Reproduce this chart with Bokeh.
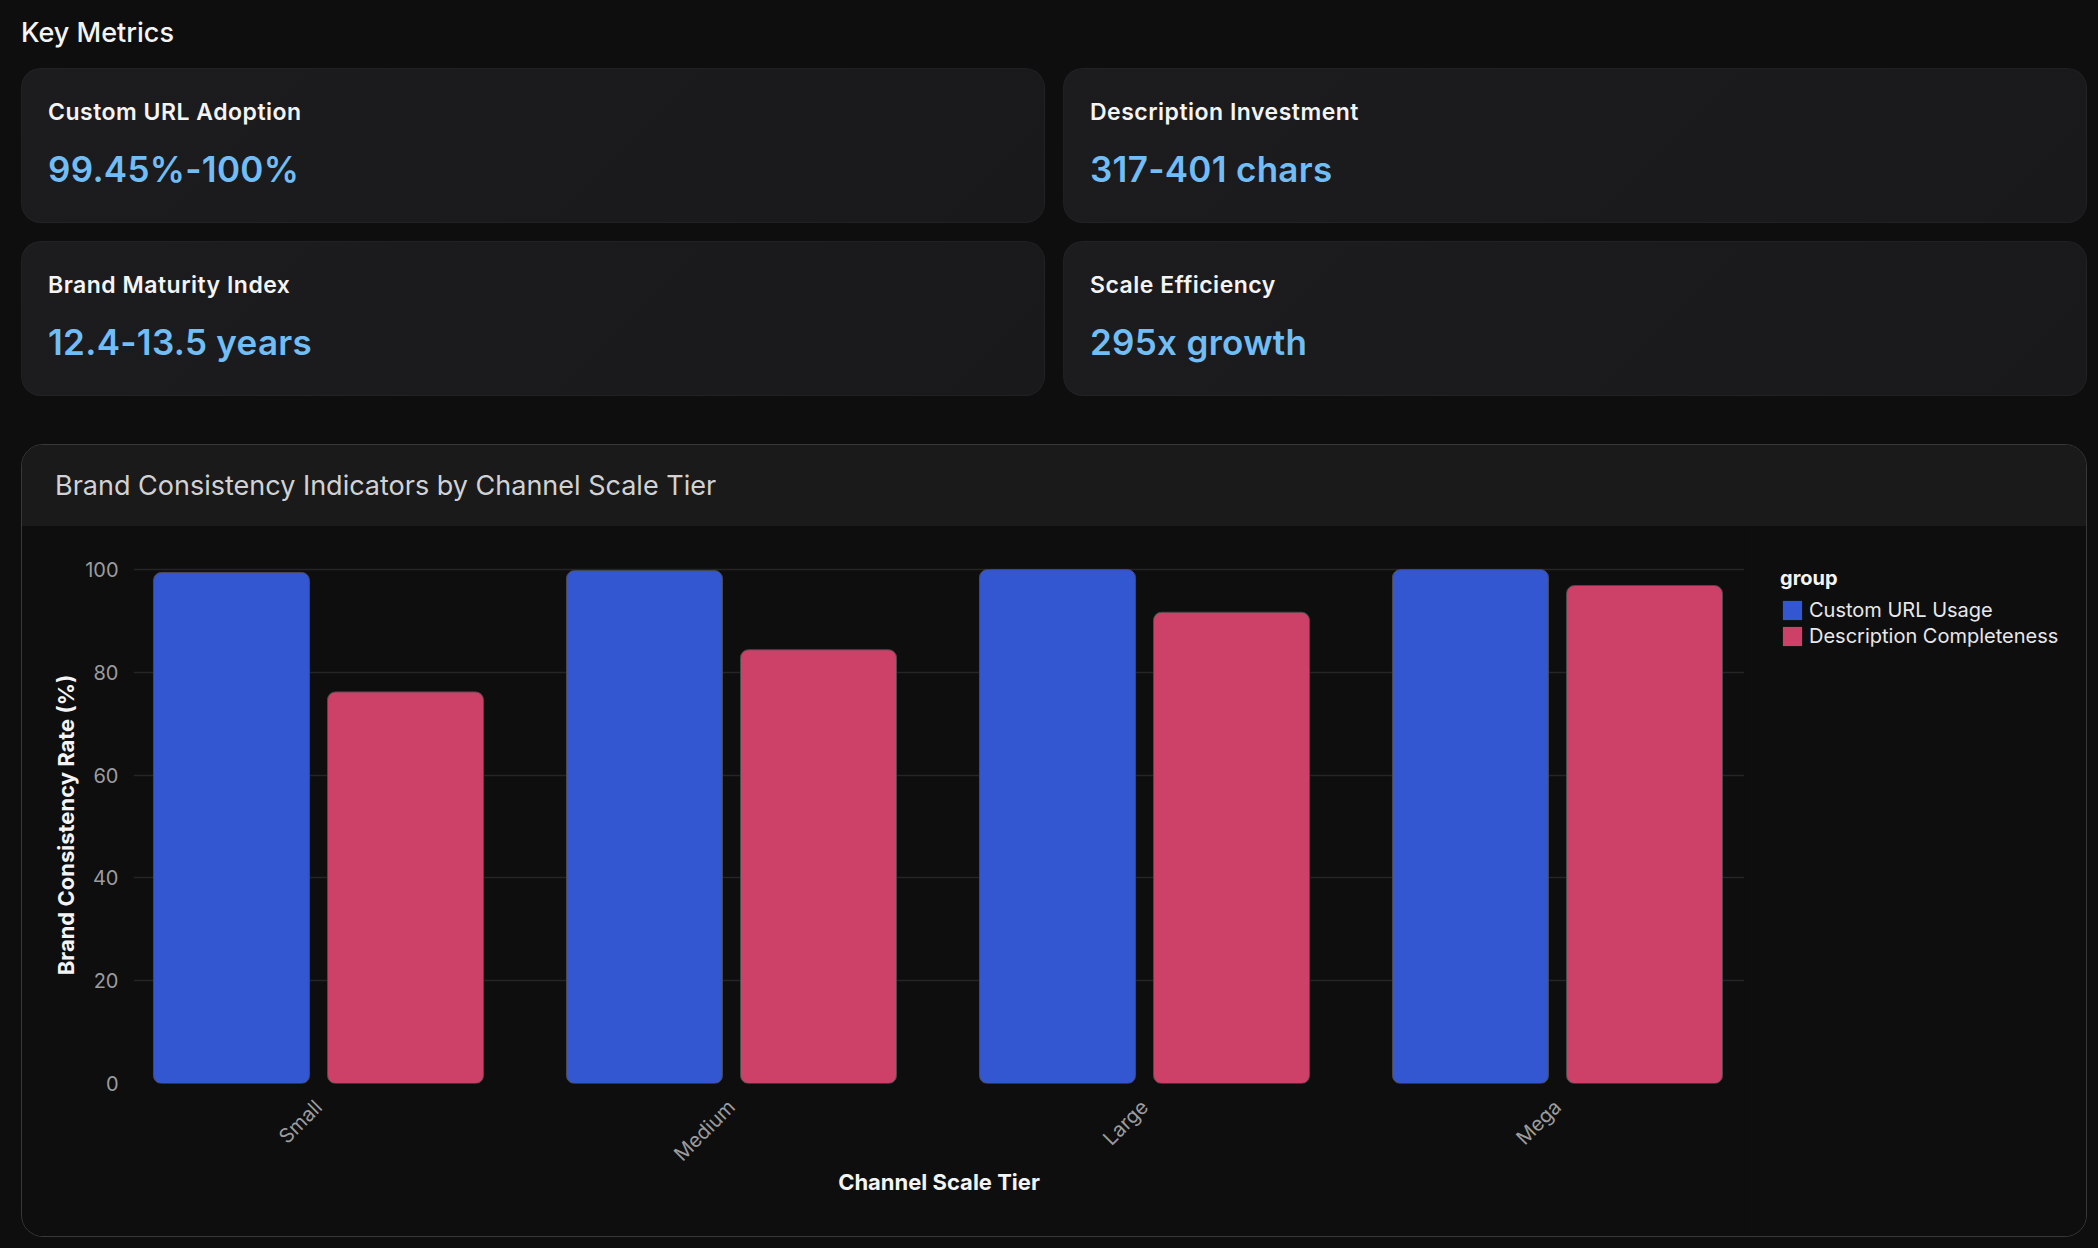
from bokeh.plotting import figure
from bokeh.models import (Div, Range1d, FixedTicker, Legend, LegendItem,
                          ColumnDataSource, GlobalInlineStyleSheet)
from bokeh.layouts import column, row
from bokeh.transform import dodge
from bokeh.embed import file_html
from bokeh.resources import INLINE

# data
tiers = ["Small", "Medium", "Large", "Mega"]
url_usage = [99.45, 99.8, 100.0, 100.0]
desc_complete = [76.2, 84.4, 91.7, 96.9]
y_ticks = [0, 20, 40, 60, 80, 100]
series_names = ["Custom URL Usage", "Description Completeness"]
series_cols = ["url", "desc"]
series_colors = ["#3356d1", "#cd4169"]

card_titles = ["Custom URL Adoption", "Description Investment",
               "Brand Maturity Index", "Scale Efficiency"]
card_values = ["99.45%-100%", "317-401 chars", "12.4-13.5 years", "295x growth"]

BG = "#0e0e0f"
FONT = "Inter"

src = ColumnDataSource(data=dict(
    x=list(range(len(tiers))),
    url=url_usage,
    desc=desc_complete,
))


def card(title, val):
    html = (
        f'<div style="font-family:{FONT};padding:29px 0 0 26px;">'
        f'<div style="font-size:23px;font-weight:600;color:#f4f4f5;line-height:28px;letter-spacing:0.5px;">{title}</div>'
        f'<div style="font-size:35px;font-weight:600;color:#71bdf5;line-height:42px;margin-top:22px;letter-spacing:0.3px;">{val}</div>'
        '</div>'
    )
    return Div(text=html, width=1024, height=155, margin=0,
               styles={"background": "linear-gradient(135deg, #1c1c1f 0%, #19191b 100%)",
                       "border-radius": "20px",
                       "border": "1px solid rgba(255,255,255,0.03)",
                       "box-sizing": "border-box"})


header = Div(text=f'<div style="font-family:{FONT};font-size:27px;font-weight:500;'
                  'color:#f4f4f5;line-height:32px;padding-top:9px;">Key Metrics</div>',
             width=2066, height=60, margin=(8, 0, 0, 21))

cards = [card(t, v) for t, v in zip(card_titles, card_values)]
row1 = row(cards[0], cards[1], spacing=18, margin=(0, 0, 0, 21))
row2 = row(cards[2], cards[3], spacing=18, margin=(18, 0, 0, 21))

panel_head = Div(text=f'<div style="font-family:{FONT};font-size:27px;font-weight:400;'
                      'color:#d2d2d4;line-height:81px;padding-left:33px;">'
                      'Brand Consistency Indicators by Channel Scale Tier</div>',
                 width=2064, height=81, margin=0,
                 styles={"background-color": "#1a1a1b"})

# main chart
p = figure(width=1722, height=710, output_backend="svg", toolbar_location=None,
           x_range=Range1d(-0.4479, 3.4528), y_range=Range1d(0, 100.6),
           min_border_left=111, min_border_right=0,
           min_border_top=40, min_border_bottom=153, margin=0)
p.background_fill_color = BG
p.border_fill_color = BG
p.outline_line_color = None

p.vbar(x=dodge("x", -0.2107, range=p.x_range), top="url", width=0.3777,
       source=src, fill_color=series_colors[0], line_color="#4b4b4f",
       line_width=1, border_radius=8)
p.vbar(x=dodge("x", 0.2107, range=p.x_range), top="desc", width=0.3777,
       source=src, fill_color=series_colors[1], line_color="#4b4b4f",
       line_width=1, border_radius=8)

p.xgrid.grid_line_color = None
p.ygrid.grid_line_color = "#252527"
p.ygrid.grid_line_width = 1.5
p.yaxis.ticker = FixedTicker(ticks=y_ticks)
p.xaxis.ticker = FixedTicker(ticks=list(range(len(tiers))))
p.xaxis.major_label_overrides = {i: t for i, t in enumerate(tiers)}
p.xaxis.major_label_orientation = 0.785398

for ax in (p.xaxis, p.yaxis):
    ax.axis_line_color = None
    ax.major_tick_line_color = None
    ax.minor_tick_line_color = None
    ax.major_tick_out = 0
    ax.major_label_text_font = FONT
    ax.major_label_text_font_size = "20px"
    ax.major_label_text_color = "#9c9c9e"
    ax.axis_label_text_font = FONT
    ax.axis_label_text_font_size = "22px"
    ax.axis_label_text_font_style = "bold"
    ax.axis_label_text_color = "#f4f4f5"

p.yaxis.major_label_standoff = 15
p.yaxis.axis_label_standoff = 3
p.xaxis.major_label_standoff = 20
p.xaxis.axis_label_standoff = -8
p.yaxis.axis_label = "Brand Consistency Rate (%)"
p.xaxis.axis_label = "Channel Scale Tier"

# legend strip to the right of the chart frame; zero-width proxies of the
# bars, so only their legend swatches are seen
pl = figure(width=342, height=710, output_backend="svg", toolbar_location=None,
            x_range=Range1d(-0.5, 3.5), y_range=Range1d(200, 300),
            x_axis_location=None, y_axis_location=None,
            min_border_left=36, min_border_right=0,
            min_border_top=40, min_border_bottom=153, margin=0)
pl.background_fill_color = BG
pl.border_fill_color = BG
pl.outline_line_color = None
pl.grid.visible = False

items = []
for name, col, color in zip(series_names, series_cols, series_colors):
    r = pl.vbar(x="x", top=col, width=0, source=src,
                fill_color=color, line_color=None)
    items.append(LegendItem(label=name, renderers=[r]))

legend = Legend(items=items, location="top_left", title="group")
legend.title_text_font = FONT
legend.title_text_font_size = "20px"
legend.title_text_font_style = "bold"
legend.title_text_color = "#f4f4f5"
legend.title_standoff = 8
legend.label_text_font = FONT
legend.label_text_font_size = "20px"
legend.label_text_color = "#e8e8ea"
legend.glyph_width = 24
legend.glyph_height = 24
legend.label_height = 20
legend.spacing = 2
legend.padding = 0
legend.margin = 0
legend.label_standoff = 5
legend.background_fill_alpha = 0
legend.border_line_color = None
pl.add_layout(legend, "center")

panel = column(panel_head, row(p, pl, spacing=0, margin=0), spacing=0, margin=(48, 0, 0, 21),
               styles={"border": "1px solid #38383b", "border-radius": "22px",
                       "overflow": "hidden", "background-color": BG})

page = column(header, row1, row2, panel, spacing=0)
page.stylesheets = [GlobalInlineStyleSheet(css=f"body {{ background-color: {BG}; }}")]

open("out.html", "w").write(file_html(page, INLINE))
